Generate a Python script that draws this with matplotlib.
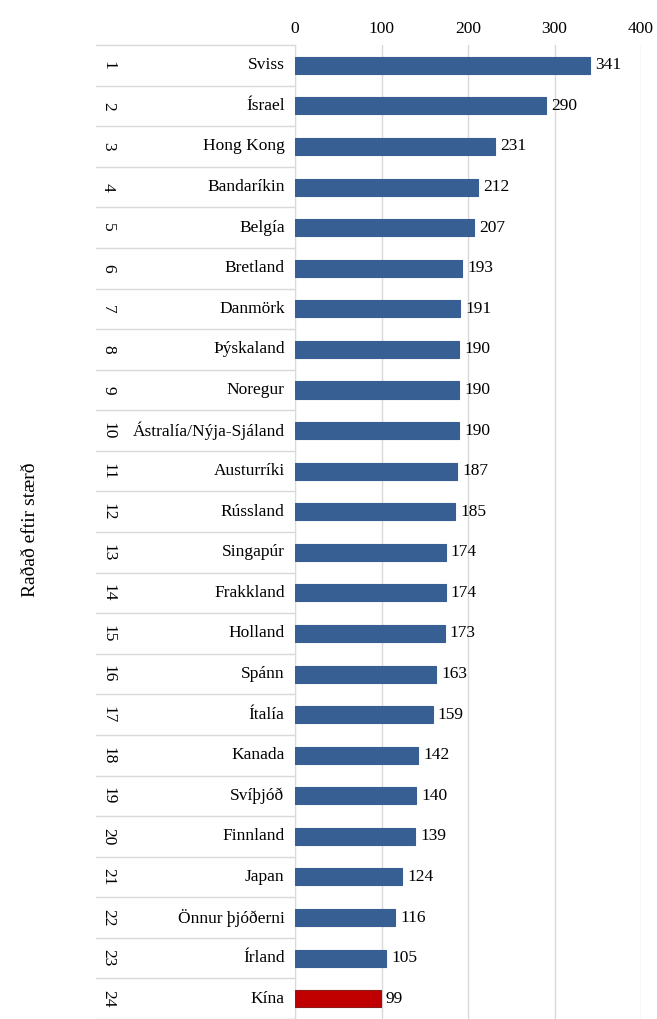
import numpy as np
import matplotlib.pyplot as plt
import matplotlib.transforms as mtransforms

plt.rcParams['font.family'] = ['Liberation Serif', 'DejaVu Serif']

countries = ['Sviss', 'Ísrael', 'Hong Kong', 'Bandaríkin', 'Belgía', 'Bretland',
             'Danmörk', 'Þýskaland', 'Noregur', 'Ástralía/Nýja-Sjáland',
             'Austurríki', 'Rússland', 'Singapúr', 'Frakkland', 'Holland',
             'Spánn', 'Ítalía', 'Kanada', 'Svíþjóð', 'Finnland', 'Japan',
             'Önnur þjóðerni', 'Írland', 'Kína']
values = [341, 290, 231, 212, 207, 193, 191, 190, 190, 190, 187, 185, 174,
          174, 173, 163, 159, 142, 140, 139, 124, 116, 105, 99]
ranks = list(range(1, len(countries) + 1))

fig = plt.figure(figsize=(6.57, 10.19), dpi=100)
ax = fig.add_axes([0.449, 0.0, 0.5267, 0.9558])

y = np.arange(len(countries))
colors = ['#375F93'] * (len(countries) - 1) + ['#C00000']
edges = ['#375F93'] * (len(countries) - 1) + ['#8B1A1A']
ax.barh(y, values, height=0.42, color=colors, edgecolor=edges, linewidth=0.8, zorder=3)
for yi, v in zip(y, values):
    ax.text(v + 6, yi, str(v), va='center', ha='left', fontsize=12.5)

ax.set_xlim(0, 400)
ax.set_ylim(len(countries) - 0.5, -0.5)
ax.xaxis.tick_top()
ax.set_xticks([0, 100, 200, 300, 400])
ax.tick_params(axis='x', length=0, labelsize=12.5, pad=6)
ax.set_yticks([])
ax.grid(axis='x', color='#D9D9D9', linewidth=1, zorder=0)
for s in ['top', 'right', 'bottom']:
    ax.spines[s].set_visible(False)
ax.spines['left'].set_color('#D9D9D9')

trans = mtransforms.blended_transform_factory(ax.transAxes, ax.transData)
x0 = -(295 - 96) / 346
for b in np.arange(-0.5, len(countries), 1.0):
    ax.plot([x0, 0], [b, b], transform=trans, color='#D9D9D9', lw=1, clip_on=False)
for yi, c, r in zip(y, countries, ranks):
    ax.text(-0.03, yi, c, transform=trans, ha='right', va='center', fontsize=12.5)
    ax.text(x0 + 0.035, yi, str(r), transform=trans, ha='center', va='center',
            fontsize=12.5, rotation=-90)

fig.text(0.046, 0.48, 'Raðað eftir stærð', rotation=90, ha='center', va='center', fontsize=14)

fig.savefig('out.png', dpi=100)
plt.close()
